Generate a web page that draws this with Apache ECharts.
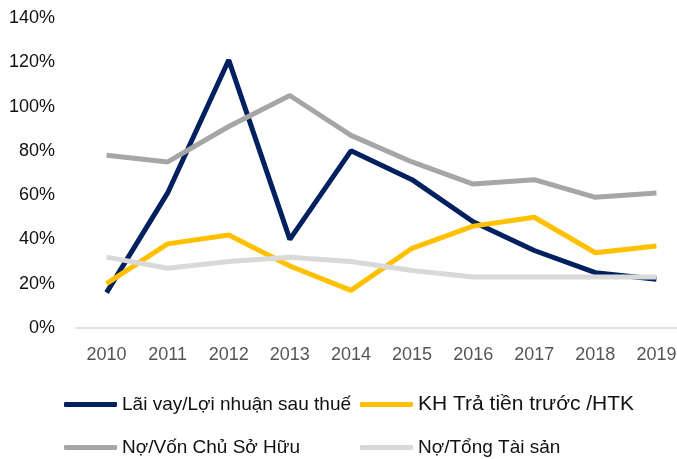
<!DOCTYPE html>
<html>
<head>
<meta charset="utf-8">
<script src="https://cdn.jsdelivr.net/npm/echarts@6/dist/echarts.min.js"></script>
<style>
  html, body { margin: 0; padding: 0; background: #fff; overflow: hidden; }
  /* a little wider than the window: the plot area runs past the right edge */
  #main { width: 687px; height: 459px; }
</style>
</head>
<body>
<div id="main"></div>
<script>
var years = ['2010', '2011', '2012', '2013', '2014', '2015', '2016', '2017', '2018', '2019'];
var seriesNames = ['Lãi vay/Lợi nhuận sau thuế', 'KH Trả tiền trước /HTK', 'Nợ/Vốn Chủ Sở Hữu', 'Nợ/Tổng Tài sản'];
var laiVay = [16, 61, 121, 40, 80, 67, 48, 35, 25, 22];
var khTraTien = [20, 38, 42, 28, 17, 36, 46, 50, 34, 37];
var noVon = [78, 75, 91, 105, 87, 75, 65, 67, 59, 61];
var noTaiSan = [32, 27, 30, 32, 30, 26, 23, 23, 23, 23];
var colors = ['#002060', '#FFC000', '#A6A6A6', '#D9D9D9'];

var chart = echarts.init(document.getElementById('main'));

var font = 'Liberation Sans, Arial, sans-serif';

function legendAt(name, left, top, size) {
  return {
    data: [name],
    left: left,
    top: top,
    icon: 'roundRect',
    itemWidth: 53,
    itemHeight: 5,
    itemGap: 0,
    padding: 0,
    textStyle: { fontFamily: font, fontSize: size, color: '#111' }
  };
}

var data = [laiVay, khTraTien, noVon, noTaiSan];

var option = {
  animation: false,
  grid: { left: 76, right: 0, top: 18, bottom: 131 },
  legend: [
    legendAt(seriesNames[0], 64, 395, 19),
    legendAt(seriesNames[1], 360, 394, 21),
    legendAt(seriesNames[2], 64, 438, 19),
    legendAt(seriesNames[3], 360, 438, 19)
  ],
  xAxis: {
    type: 'category',
    data: years,
    boundaryGap: true,
    axisLine: { lineStyle: { color: '#D9D9D9', width: 1.5 } },
    axisTick: { show: false },
    axisLabel: { fontFamily: font, fontSize: 18, color: '#555', margin: 18 }
  },
  yAxis: {
    type: 'value',
    min: 0,
    max: 140,
    interval: 20,
    splitLine: { show: false },
    axisLine: { show: false },
    axisLabel: {
      fontFamily: font, fontSize: 18, color: '#111', margin: 21,
      formatter: '{value}%'
    }
  },
  series: seriesNames.map(function (n, i) {
    return {
      name: n,
      type: 'line',
      data: data[i],
      symbol: 'none',
      color: colors[i],
      lineStyle: { width: 5, color: colors[i] }
    };
  })
};

chart.setOption(option);
</script>
</body>
</html>
